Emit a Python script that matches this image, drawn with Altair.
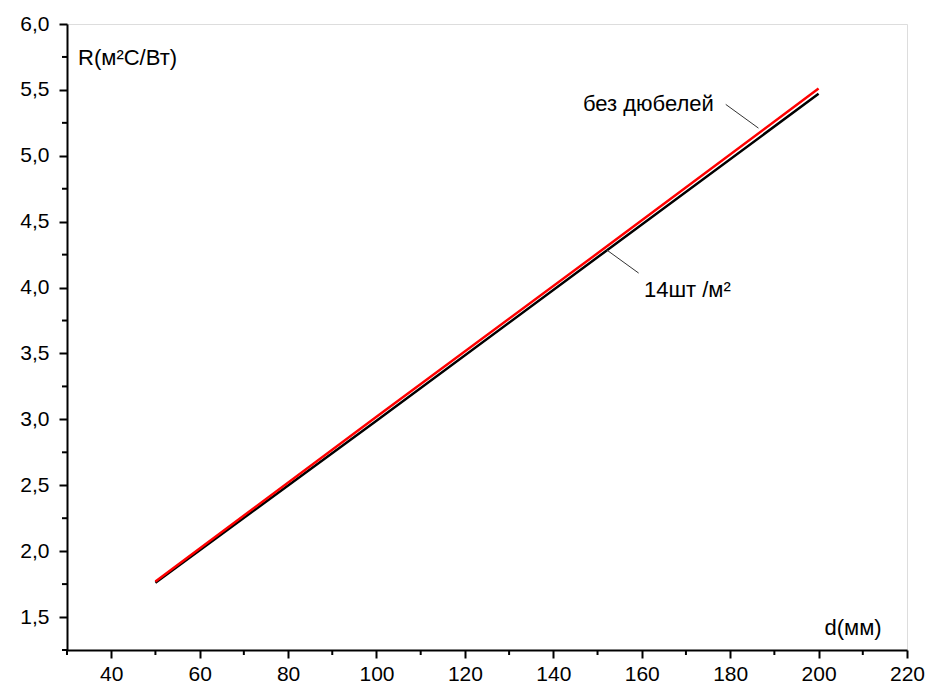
import altair as alt
import pandas as pd

# Thermal resistance vs. insulation thickness
d_mm = [50, 100, 150, 200]
r_with_dowels = [1.76, 2.99, 4.23, 5.47]      # 14 dowels per m²
r_no_dowels = [1.77, 3.02, 4.26, 5.51]        # without dowels

x_major = [40, 60, 80, 100, 120, 140, 160, 180, 200, 220]
x_minor = [30, 50, 70, 90, 110, 130, 150, 170, 190, 210]
y_major = [1.5, 2.0, 2.5, 3.0, 3.5, 4.0, 4.5, 5.0, 5.5, 6.0]
y_minor = [1.25, 1.75, 2.25, 2.75, 3.25, 3.75, 4.25, 4.75, 5.25, 5.75]

FONT = "Liberation Sans"
W, H = 840, 626
TXT = 22

df = pd.DataFrame({
    "d": d_mm * 2,
    "R": r_with_dowels + r_no_dowels,
    "series": ["14шт /м²"] * 4 + ["без дюбелей"] * 4,
})

xs = alt.Scale(domain=[30, 220], nice=False, zero=False)
ys = alt.Scale(domain=[1.25, 6.0], nice=False, zero=False)

axis_style = dict(tickSize=8, tickWidth=2, tickColor="black", domainColor="black",
                  domainWidth=2, labelFontSize=21, labelFont=FONT, labelColor="black",
                  labelFlush=False, labelOverlap=False, grid=False, title=None)

lines = alt.Chart(df).mark_line(strokeWidth=2.5).encode(
    x=alt.X("d:Q", scale=xs,
            axis=alt.Axis(values=x_major, format="d", labelPadding=5, **axis_style)),
    y=alt.Y("R:Q", scale=ys,
            axis=alt.Axis(values=y_major, format=".1f", labelPadding=10, **axis_style)),
    color=alt.Color("series:N",
                    scale=alt.Scale(domain=["14шт /м²", "без дюбелей"],
                                    range=["black", "#ff0000"]),
                    legend=None),
    order=alt.Order("series:N"),
)

# minor ticks on both axes
minor_x = alt.Chart(pd.DataFrame({"d": x_minor})).mark_rule(
    color="black", strokeWidth=2).encode(
    x=alt.X("d:Q", scale=xs), y=alt.value(H), y2=alt.value(H + 5))
minor_y = alt.Chart(pd.DataFrame({"R": y_minor})).mark_rule(
    color="black", strokeWidth=2).encode(
    y=alt.Y("R:Q", scale=ys), x=alt.value(0), x2=alt.value(-5))

# leader lines for the series labels
leaders_df = pd.DataFrame({
    "x1": [179.0, 151.9], "y1": [5.39, 4.29],
    "x2": [186.4, 159.3], "y2": [5.21, 4.11],
})
leaders = alt.Chart(leaders_df).mark_rule(color="#333333", strokeWidth=1).encode(
    x="x1:Q", y="y1:Q", x2="x2:Q", y2="y2:Q",
)

labels_df = pd.DataFrame({
    "x": [176.3, 160.5], "y": [5.39, 3.98],
    "text": ["без дюбелей", "14шт /м²"],
})
lab_right = alt.Chart(labels_df.iloc[[0]]).mark_text(
    align="right", baseline="middle", fontSize=TXT, font=FONT, color="black"
).encode(x="x:Q", y="y:Q", text="text:N")
lab_left = alt.Chart(labels_df.iloc[[1]]).mark_text(
    align="left", baseline="middle", fontSize=TXT, font=FONT, color="black"
).encode(x="x:Q", y="y:Q", text="text:N")

titles_df = pd.DataFrame({
    "x": [32.5, 207.8], "y": [5.74, 1.42],
    "text": ["R(м²C/Вт)", "d(мм)"],
})
title_y = alt.Chart(titles_df.iloc[[0]]).mark_text(
    align="left", baseline="middle", fontSize=TXT, font=FONT, color="black"
).encode(x="x:Q", y="y:Q", text="text:N")
title_x = alt.Chart(titles_df.iloc[[1]]).mark_text(
    align="center", baseline="middle", fontSize=TXT, font=FONT, color="black"
).encode(x="x:Q", y="y:Q", text="text:N")

chart = alt.layer(lines, minor_x, minor_y, leaders, lab_right, lab_left,
                  title_y, title_x).properties(
    width=W, height=H,
    autosize=alt.AutoSizeParams(type="none"),
    padding={"left": 67, "top": 24, "right": 23, "bottom": 42},
).configure_view(
    stroke="#808080", strokeWidth=1.5
).configure(background="white")

chart.save("out.html", embed_options={
    "renderer": "svg", "actions": False,
    "formatLocale": {"decimal": ",", "thousands": "\u00a0", "grouping": [3],
                     "currency": ["", ""]},
})
